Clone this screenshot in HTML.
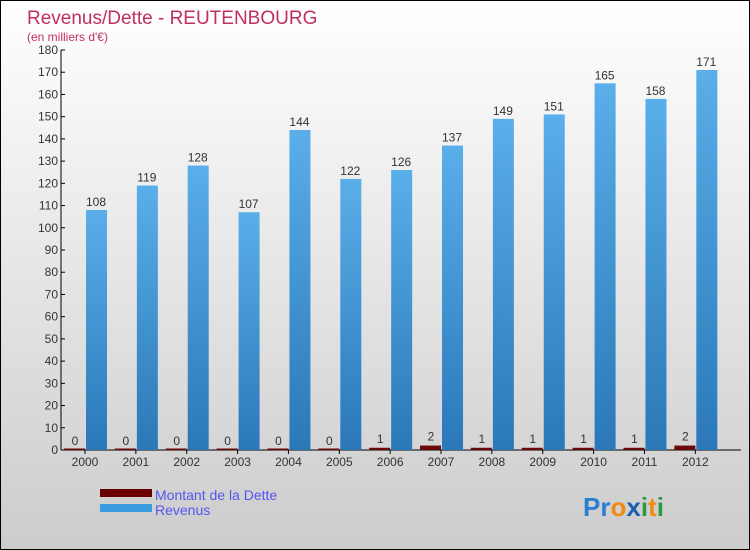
<!DOCTYPE html>
<html><head><meta charset="utf-8"><style>
body{margin:0}
#c{width:748px;height:548px;border:1px solid #000;background:linear-gradient(#fff,#ccc);position:relative;font-family:"Liberation Sans",sans-serif}
</style></head><body>
<div id="c">
<svg width="748" height="548" style="position:absolute;left:0;top:0" id="svg">
<text x="26" y="23" font-size="19" fill="#c0305e">Revenus/Dette - REUTENBOURG</text>
<text x="26" y="40" font-size="12" fill="#c0305e">(en milliers d'€)</text>
<g id="g"></g>
<rect x="99" y="488" width="52" height="8" fill="#6b0000"/>
<text x="154" y="499" font-size="14" fill="#5555ee">Montant de la Dette</text>
<rect x="99" y="503" width="52" height="8" fill="#3a9de0"/>
<text x="154" y="514" font-size="14" fill="#5555ee">Revenus</text>
<text x="582" y="515" font-size="26" font-weight="bold"><tspan fill="#2a7fd0">Pr</tspan><tspan fill="#f08a10">o</tspan><tspan fill="#1a5fb0">x</tspan><tspan fill="#2a9a40">i</tspan><tspan fill="#f08a10">t</tspan><tspan fill="#2a9a40">i</tspan></text>
</svg>
</div>
<script>
const years=["2000","2001","2002","2003","2004","2005","2006","2007","2008","2009","2010","2011","2012"];
const dette=[0,0,0,0,0,0,1,2,1,1,1,1,2];
const revenus=[108,119,128,107,144,122,126,137,149,151,165,158,171];
const yTicks=[0,10,20,30,40,50,60,70,80,90,100,110,120,130,140,150,160,170,180];
const NS="http://www.w3.org/2000/svg";
const g=document.getElementById('g');
const y=v=>449-v*400/180;
const x=i=>84+i*50.86;
function mk(t,a){const e=document.createElementNS(NS,t);for(const k in a)e.setAttribute(k,a[k]);g.appendChild(e);return e;}
const defs=mk('defs',{});
defs.innerHTML='<linearGradient id="bg" x1="0" y1="0" x2="0" y2="1"><stop offset="0" stop-color="#5aaeea"/><stop offset="1" stop-color="#2a78b8"/></linearGradient>';
let ax=mk('line',{x1:60,y1:y(180),x2:60,y2:y(0),stroke:'#000'});

let xa=mk('line',{x1:60,y1:y(0),x2:740,y2:y(0),stroke:'#000'});

yTicks.forEach(v=>{
 const t=mk('line',{x1:60,x2:64,y1:y(v),y2:y(v),stroke:'#000'});
 
 const l=mk('text',{x:57,y:y(v)+4,'font-size':12,'text-anchor':'end',fill:'#333'});
 l.textContent=v;
 
});
years.forEach((yr,i)=>{
 const c=x(i);
 const hd=Math.max(dette[i]*400/180,1.5);
 const d=mk('rect',{x:c-21,y:y(0)-hd,width:21,height:hd,fill:'#6b0a0a'});
 
 const dl=mk('text',{x:c-10,y:y(dette[i])-5,'font-size':12,'text-anchor':'middle',fill:'#333'});
 dl.textContent=dette[i];
 
 const r=mk('rect',{x:c+1,y:y(revenus[i]),width:21,height:revenus[i]*400/180,fill:'url(#bg)'});
 
 const rl=mk('text',{x:c+11,y:y(revenus[i])-4,'font-size':12,'text-anchor':'middle',fill:'#333'});
 rl.textContent=revenus[i];
 
 const tk=mk('line',{x1:c,x2:c,y1:y(0),y2:y(0)+4,stroke:'#000'});
 
 const xl=mk('text',{x:c,y:y(0)+16,'font-size':12,'text-anchor':'middle',fill:'#333'});
 xl.textContent=yr;
 
});
</script>
</body></html>
